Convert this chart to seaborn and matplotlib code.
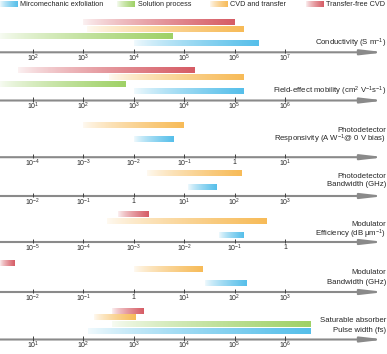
import numpy as np
import matplotlib
matplotlib.use("Agg")
import matplotlib.pyplot as plt
import seaborn as sns

nan = np.nan

# growth methods and their colours (order: blue, green, orange, red)
methods = ["Mircomechanic exfoliation", "Solution process", "CVD and transfer", "Transfer-free CVD"]
method_colors = ["#56bfea", "#9fd166", "#f7bb58", "#d65c65"]

# value ranges per method, nan = not reported
conductivity_lo = [1e4, 22, 1.2e3, 1e3]
conductivity_hi = [3e6, 5.8e4, 1.5e6, 1e6]
mobility_lo = [1e3, 2.2, 320, 5]
mobility_hi = [1.5e5, 680, 1.5e5, 1.6e4]
pd_resp_lo = [1e-2, nan, 1e-3, nan]
pd_resp_hi = [0.06, nan, 0.1, nan]
pd_bw_lo = [12, nan, 1.8, nan]
pd_bw_hi = [44, nan, 135, nan]
mod_eff_lo = [0.05, nan, 2.9e-4, 4.9e-4]
mod_eff_hi = [0.155, nan, 0.42, 2e-3]
mod_bw_lo = [26, nan, 1, 2.2e-3]
mod_bw_hi = [170, nan, 23, 4.2e-3]
pulse_lo = [125, 375, 160, 375]
pulse_hi = [3.2e6, 3.2e6, 1050, 1600]

panel_lo = [conductivity_lo, mobility_lo, pd_resp_lo, pd_bw_lo, mod_eff_lo, mod_bw_lo, pulse_lo]
panel_hi = [conductivity_hi, mobility_hi, pd_resp_hi, pd_bw_hi, mod_eff_hi, mod_bw_hi, pulse_hi]

panel_labels = [
    ["Conductivity (S m$^{-1}$)"],
    ["Field-effect mobility (cm$^{2}$ V$^{-1}$s$^{-1}$)"],
    ["Photodetector", "Responsivity (A W$^{-1}$@ 0 V bias)"],
    ["Photodetector", "Bandwidth (GHz)"],
    ["Modulator", "Efficiency (dB μm$^{-1}$)"],
    ["Modulator", "Bandwidth (GHz)"],
    ["Saturable absorber", "Pulse width (fs)"],
]
first_tick_exp = [2, 1, -4, -2, -5, -2, 1]
n_ticks = 6

# layout (pixels)
W, H = 387, 354
DEC = 50.4          # px per decade
X0 = 33             # px of first tick
axis_y = [52.3, 100.5, 157.2, 196, 242, 292, 339.5]
bar_gap = [9.5, 9.5, 18, 9, 7, 9, 8.5]
label_y = [[9], [9], [27, 18], [20, 11], [17.5, 7.5], [19.5, 9], [19, 9]]
PITCH, BAR_H = 6.8, 5.8

sns.set_theme(style="white")
plt.rcParams['font.family'] = ['Liberation Sans', 'DejaVu Sans']
plt.rcParams['mathtext.default'] = 'regular'

AXIS_C = "#8a8a8a"
TEXT_C = "#262626"

grad = (np.linspace(0.03, 1, 256) ** 0.7).reshape(1, -1)
cmaps = [sns.blend_palette(["#ffffff", c], as_cmap=True) for c in method_colors]

fig = plt.figure(figsize=(W / 100, H / 100), dpi=100)

# legend strip
lax = fig.add_axes([0, 1 - 12 / H, 1, 12 / H])
lax.axis('off')
legend_x = [0, 117, 210, 306]
for i, name in enumerate(methods):
    lax.imshow(grad, cmap=cmaps[i], aspect='auto', vmin=0, vmax=1,
               extent=(legend_x[i], legend_x[i] + 18, 7, 1), interpolation='bilinear')
    lax.text(legend_x[i] + 20.5, 4, name, fontsize=5.2, color=TEXT_C, va='center', ha='left')
lax.set_xlim(0, W)
lax.set_ylim(12, 0)

for p in range(7):
    below, above = 14, 46
    ax = fig.add_axes([0, 1 - (axis_y[p] + below) / H, 1, (below + above) / H])
    k0 = first_tick_exp[p]
    xmin = k0 - X0 / DEC
    xmax = xmin + W / DEC
    ax.axis('off')

    lo = np.log10(np.array(panel_lo[p], dtype=float))
    hi = np.log10(np.array(panel_hi[p], dtype=float))
    for i in range(len(methods)):
        if np.isnan(lo[i]):
            continue
        yc = bar_gap[p] + PITCH * i
        ax.imshow(grad, cmap=cmaps[i], aspect='auto', vmin=0, vmax=1,
                  extent=(lo[i], hi[i], yc - BAR_H / 2, yc + BAR_H / 2),
                  interpolation='bilinear')

    # axis arrow
    ax.annotate("", xy=(xmin + 385 / DEC, 0), xytext=(xmin, 0),
                arrowprops=dict(arrowstyle="-|>,head_length=1.3,head_width=0.15",
                                mutation_scale=10, color=AXIS_C, lw=1.5,
                                shrinkA=0, shrinkB=0))
    ks = np.arange(k0, k0 + n_ticks)
    ax.vlines(ks, -1, 3.4, color="#404040", lw=0.7, zorder=3)
    for k in ks:
        if k == 0:
            ax.text(k, -7.2, "1", ha='center', va='baseline', fontsize=5, color=TEXT_C)
        else:
            ax.text(k, -9.4, f"$10^{{{k}}}$", ha='center', va='baseline',
                    fontsize=5, color=TEXT_C)

    for txt, ly in zip(panel_labels[p], label_y[p]):
        ax.text(0.998, ly, txt, transform=ax.get_yaxis_transform(), ha='right',
                va='center', fontsize=5.6, color=TEXT_C)

    ax.set_xlim(xmin, xmax)
    ax.set_ylim(-below, above)

fig.savefig("out.png", dpi=100)
plt.close(fig)
